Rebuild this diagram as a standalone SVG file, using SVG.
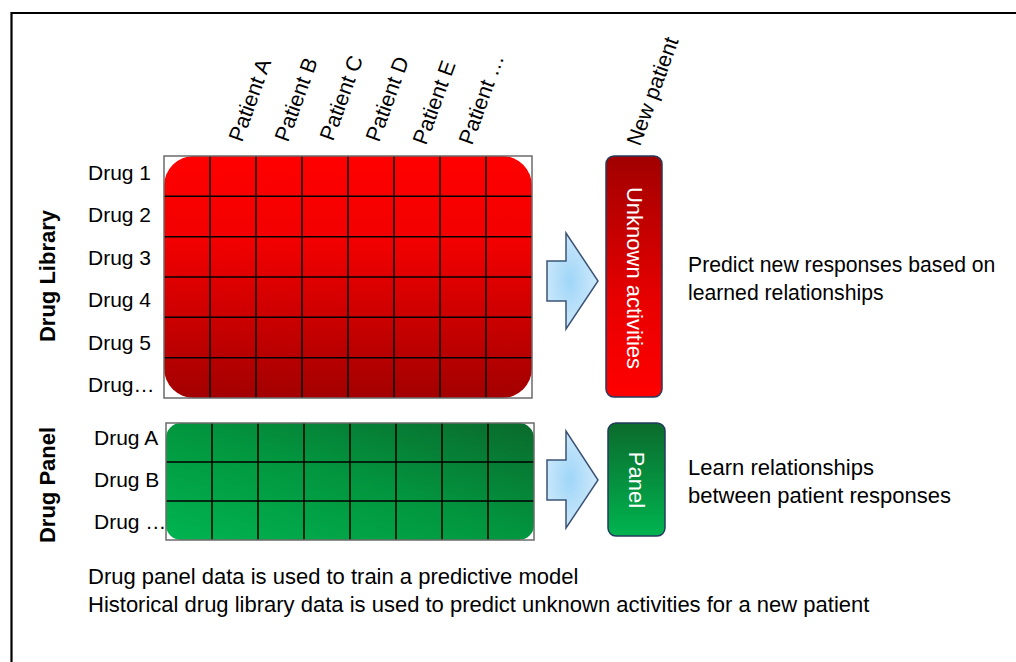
<svg xmlns="http://www.w3.org/2000/svg" width="1016" height="662" viewBox="0 0 1016 662">
<defs>
<linearGradient id="gRed" x1="0" y1="0" x2="0" y2="1"><stop offset="0" stop-color="#ff0000"/><stop offset="0.35" stop-color="#f20000"/><stop offset="1" stop-color="#a30000"/></linearGradient>
<linearGradient id="gRedBox" x1="0" y1="0" x2="0" y2="1"><stop offset="0" stop-color="#a00000"/><stop offset="0.6" stop-color="#e80000"/><stop offset="1" stop-color="#ff0000"/></linearGradient>
<linearGradient id="gGreen" x1="0" y1="1" x2="1" y2="0"><stop offset="0" stop-color="#00b450"/><stop offset="0.5" stop-color="#02963f"/><stop offset="1" stop-color="#0a6a2c"/></linearGradient>
<linearGradient id="gGreenBox" x1="0" y1="0" x2="0" y2="1"><stop offset="0" stop-color="#0b6b2c"/><stop offset="1" stop-color="#00b450"/></linearGradient>
<radialGradient id="gArrow" cx="0.45" cy="0.5" r="0.6"><stop offset="0" stop-color="#9fd6f8"/><stop offset="1" stop-color="#d4ebfb"/></radialGradient>
<style>
.t{font-family:"Liberation Sans",Arial,sans-serif;font-size:21px;fill:#000}
.r{font-family:"Liberation Sans",Arial,sans-serif;font-size:22px;fill:#000}
.r2{font-family:"Liberation Sans",Arial,sans-serif;font-size:21.2px;fill:#000}
.b{font-family:"Liberation Sans",Arial,sans-serif;font-size:22px;font-weight:bold;fill:#000}
.p{font-family:"Liberation Sans",Arial,sans-serif;font-size:21.5px;fill:#000}
.w{font-family:"Liberation Sans",Arial,sans-serif;font-size:22px;fill:#fff}
.frame{fill:none;stroke:#6b6b6b;stroke-width:1.5}
.grid{stroke:#000;stroke-width:1.5;fill:none}
.arrow{fill:url(#gArrow);stroke:#3b5476;stroke-width:1.5}
.box{stroke:#243a5e;stroke-width:1.5}
</style>
</defs>
<rect width="1016" height="662" fill="#fff"/>
<path d="M11.5,662 V13 H1016" fill="none" stroke="#000" stroke-width="2.2"/>

<g id="patient-labels">
<text class="p" transform="translate(242,143) rotate(-70)">Patient A</text>
<text class="p" transform="translate(288,143) rotate(-70)">Patient B</text>
<text class="p" transform="translate(333,142) rotate(-70)">Patient C</text>
<text class="p" transform="translate(379,143) rotate(-70)">Patient D</text>
<text class="p" transform="translate(426,146) rotate(-70)">Patient E</text>
<text class="p" transform="translate(472,146) rotate(-70)">Patient …</text>
<text class="p" transform="translate(640,147) rotate(-70)">New patient</text>
</g>

<g id="drug-library-label"><text class="b" text-anchor="middle" transform="translate(55,276) rotate(-90)">Drug Library</text></g>
<g id="drug-panel-label"><text class="b" text-anchor="middle" transform="translate(55,485) rotate(-90)">Drug Panel</text></g>

<g id="library-rows">
<text class="t" x="88" y="180">Drug 1</text>
<text class="t" x="88" y="222">Drug 2</text>
<text class="t" x="88" y="265">Drug 3</text>
<text class="t" x="88" y="307">Drug 4</text>
<text class="t" x="88" y="350">Drug 5</text>
<text class="t" x="88" y="392">Drug…</text>
</g>
<g id="panel-rows">
<text class="t" x="94" y="445">Drug A</text>
<text class="t" x="94" y="487">Drug B</text>
<text class="t" x="94" y="529">Drug …</text>
</g>

<g id="library-grid">
<rect x="164" y="156" width="368" height="242" rx="30" fill="url(#gRed)"/>
<path class="grid" d="M210,156V398M256,156V398M302,156V398M348,156V398M394,156V398M440,156V398M486,156V398M164,196.3H532M164,236.7H532M164,277H532M164,317.3H532M164,357.7H532"/>
<rect class="frame" x="164" y="156" width="368" height="242"/>
</g>

<g id="panel-grid">
<rect x="166" y="423" width="368" height="117" rx="15" fill="url(#gGreen)"/>
<path class="grid" d="M212,423V540M258,423V540M304,423V540M350,423V540M396,423V540M442,423V540M488,423V540M166,462H534M166,501H534"/>
<rect class="frame" x="166" y="423" width="368" height="117"/>
</g>

<g id="connectors">
<polygon class="arrow" points="547,261 566,261 566,233 598,281 566,329 566,301 547,301"/>
<polygon class="arrow" points="547,460 566,460 566,431 598,480 566,528 566,500 547,500"/>
</g>

<g id="unknown-activities">
<rect class="box" x="606" y="156" width="56" height="241" rx="8" fill="url(#gRedBox)"/>
<text class="w" text-anchor="middle" transform="translate(627,278) rotate(90)">Unknown activities</text>
</g>
<g id="panel-box">
<rect class="box" x="608" y="423" width="57" height="113" rx="8" fill="url(#gGreenBox)"/>
<text class="w" text-anchor="middle" transform="translate(629,480) rotate(90)">Panel</text>
</g>

<g id="predict-text">
<text class="r2" x="688" y="272">Predict new responses based on</text>
<text class="r2" x="688" y="300">learned relationships</text>
</g>
<g id="learn-text">
<text class="r" x="688" y="475">Learn relationships</text>
<text class="r" x="688" y="503">between patient responses</text>
</g>
<g id="caption">
<text class="r" x="88" y="584">Drug panel data is used to train a predictive model</text>
<text class="r" x="88" y="612">Historical drug library data is used to predict unknown activities for a new patient</text>
</g>
</svg>
